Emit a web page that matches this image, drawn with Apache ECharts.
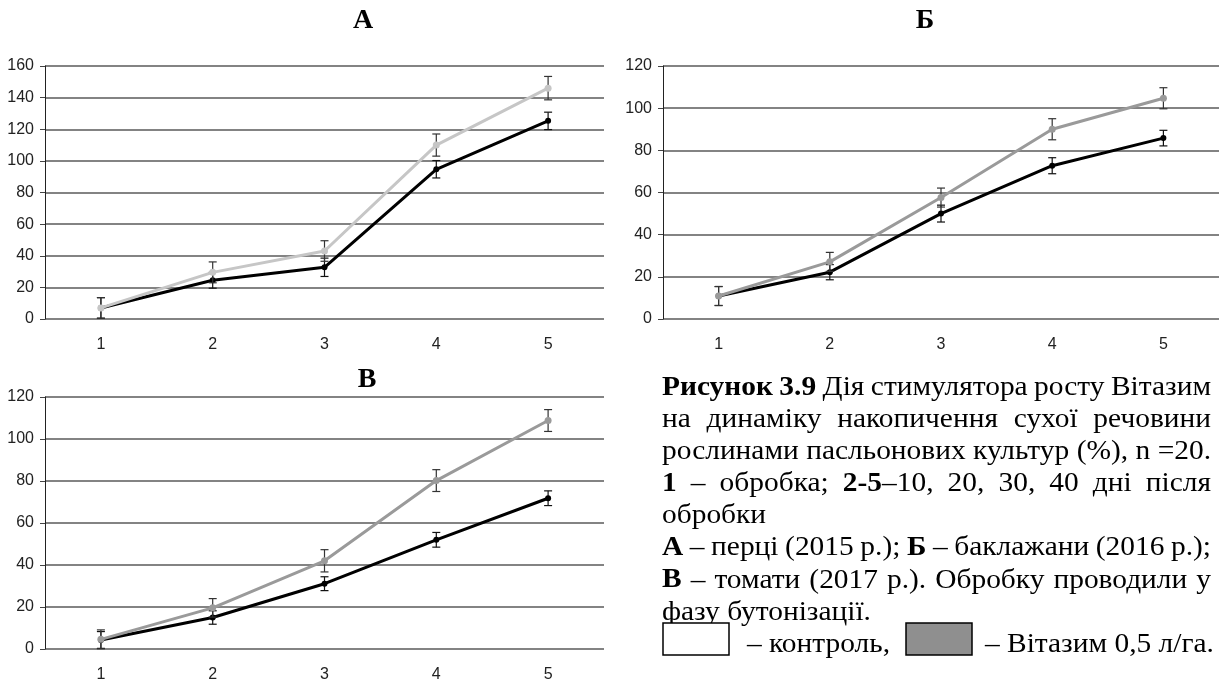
<!DOCTYPE html>
<html><head><meta charset="utf-8">
<script src="https://cdn.jsdelivr.net/npm/echarts@6/dist/echarts.min.js"></script>
<style>html,body{margin:0;padding:0;background:#fff}#c{width:1219px;height:684px}</style>
</head><body><div id="c"></div>
<script>
// ---- data ----
const categories = ['1', '2', '3', '4', '5'];
const panelTitles = ['А', 'Б', 'В'];

const controlA = [7, 24.5, 32.7, 94.7, 125.3];
const vitazimA = [7, 29.5, 43, 110, 146];
const controlErrA = [6.5, 5, 5.8, 5.5, 5.5];
const vitazimErrA = [6.5, 6.6, 6.5, 7, 7.4];

const controlB = [10.9, 22.2, 50, 72.7, 85.8];
const vitazimB = [10.9, 27.1, 57.6, 90, 104.7];
const controlErrB = [4.5, 3.6, 4, 3.8, 3.7];
const vitazimErrB = [4.5, 4.5, 4.5, 5, 5];

const controlV = [4.3, 15, 31.1, 52, 71.8];
const vitazimV = [4.6, 19.6, 42, 80.2, 108.8];
const controlErrV = [4, 3.2, 3.3, 3.5, 3.5];
const vitazimErrV = [4.5, 4.4, 5.3, 5.2, 5.2];

const yMaxA = 160, yMaxB = 120, yMaxV = 120, yStep = 20;

const captionLines = [
  '*Рисунок* *3.9* Дія стимулятора росту Вітазим',
  'на динаміку накопичення сухої речовини',
  'рослинами пасльонових культур (%), n =20.',
  '*1* – обробка; *2-5*–10, 20, 30, 40 дні після',
  'обробки',
  '*А* – перці (2015 р.); *Б* – баклажани (2016 р.);',
  '*В* – томати (2017 р.). Обробку проводили у',
  'фазу бутонізації.'
];
const captionJustify = [true, true, true, true, false, true, true, false];
const legendLabels = ['– контроль,', '– Вітазим 0,5 л/га.'];

// ---- styles / layout ----
const axisFont = "'Liberation Sans Narrow', 'Arial Narrow', 'Liberation Sans', Arial, sans-serif";
const serif = "'Liberation Serif', 'Times New Roman', serif";
const grids = [
  {left: 45, top: 66, width: 559, height: 253},
  {left: 663, top: 66, width: 559, height: 253},
  {left: 45, top: 397, width: 559, height: 252}
];
const lightGray = '#c6c6c6', midGray = '#9a9a9a';
const panels = [
  {c: controlA, v: vitazimA, ce: controlErrA, ve: vitazimErrA, max: yMaxA, gray: lightGray},
  {c: controlB, v: vitazimB, ce: controlErrB, ve: vitazimErrB, max: yMaxB, gray: midGray},
  {c: controlV, v: vitazimV, ce: controlErrV, ve: vitazimErrV, max: yMaxV, gray: midGray}
];

function errRender(color) {
  return function (params, api) {
    const x = api.value(0), lo = api.value(1), hi = api.value(2);
    const p1 = api.coord([x, hi]), p2 = api.coord([x, lo]);
    const w = 4;
    const st = {stroke: color, lineWidth: 1.2};
    return {type: 'group', children: [
      {type: 'line', shape: {x1: p1[0], y1: p1[1], x2: p2[0], y2: p2[1]}, style: st},
      {type: 'line', shape: {x1: p1[0] - w, y1: p1[1], x2: p1[0] + w, y2: p1[1]}, style: st},
      {type: 'line', shape: {x1: p2[0] - w, y1: p2[1], x2: p2[0] + w, y2: p2[1]}, style: st}
    ]};
  };
}

const xAxes = [], yAxes = [], series = [];
panels.forEach((p, i) => {
  xAxes.push({
    type: 'category', gridIndex: i, data: categories, boundaryGap: true,
    axisLine: {show: false}, axisTick: {show: false},
    axisLabel: {color: '#222', fontFamily: axisFont, fontSize: 16, margin: 18}
  });
  yAxes.push({
    type: 'value', gridIndex: i, min: 0, max: p.max, interval: yStep,
    axisLine: {show: true, lineStyle: {color: '#222', width: 1}},
    axisTick: {show: true, length: 5, lineStyle: {color: '#444'}},
    axisLabel: {color: '#222', fontFamily: axisFont, fontSize: 16, margin: 11},
    splitLine: {show: true, lineStyle: {color: '#5a5a5a', width: 1.6}}
  });
  const mkErr = (vals, errs) => vals.map((v, k) => [k, v - errs[k], v + errs[k]]);
  series.push({
    type: 'custom', xAxisIndex: i, yAxisIndex: i, renderItem: errRender('#111'),
    data: mkErr(p.c, p.ce), encode: {x: 0, y: [1, 2]}, z: 3, silent: true
  });
  series.push({
    type: 'line', xAxisIndex: i, yAxisIndex: i, data: p.c,
    lineStyle: {color: '#000', width: 3}, itemStyle: {color: '#000'},
    symbol: 'circle', symbolSize: 6, z: 4, animation: false
  });
  series.push({
    type: 'custom', xAxisIndex: i, yAxisIndex: i, renderItem: errRender('#333'),
    data: mkErr(p.v, p.ve), encode: {x: 0, y: [1, 2]}, z: 5, silent: true
  });
  series.push({
    type: 'line', xAxisIndex: i, yAxisIndex: i, data: p.v,
    lineStyle: {color: p.gray, width: 3}, itemStyle: {color: p.gray},
    symbol: 'circle', symbolSize: 7, z: 6, animation: false
  });
});

// ---- caption layout ----
const capSize = 26.5, capScaleX = 1.11;
const capLeft = 662, capRight = 1211, capBase0 = 397, capStep = 32.1;
const mctx = document.createElement('canvas').getContext('2d');
function fontStr(b) { return (b ? 'bold ' : 'normal ') + capSize + 'px ' + serif; }
function segW(t, b) { mctx.font = fontStr(b); return mctx.measureText(t).width * capScaleX; }
function parseWord(w) {
  return w.split('*').map((t, k) => ({t: t, b: k % 2 === 1})).filter(s => s.t.length);
}
const graphics = [];
const titlePos = [[363, 21], [925, 21], [367, 380]];
panelTitles.forEach((t, i) => {
  graphics.push({type: 'text', x: titlePos[i][0], y: titlePos[i][1],
    style: {text: t, font: 'bold 28px ' + serif, fill: '#000', align: 'center', verticalAlign: 'middle'}});
});
function addSeg(s, x, base) {
  graphics.push({type: 'text', x: x, y: base - 9, scaleX: capScaleX,
    style: {text: s.t, font: fontStr(s.b), fill: '#000', align: 'left', verticalAlign: 'middle'}});
}
captionLines.forEach((line, li) => {
  const base = capBase0 + li * capStep;
  const words = line.split(' ').map(parseWord);
  const widths = words.map(ws => ws.reduce((a, s) => a + segW(s.t, s.b), 0));
  const total = widths.reduce((a, b) => a + b, 0);
  const space = segW(' ', false);
  const gap = captionJustify[li] && words.length > 1 ? (capRight - capLeft - total) / (words.length - 1) : space;
  let x = capLeft;
  words.forEach((ws, wi) => {
    let sx = x;
    ws.forEach(s => { addSeg(s, sx, base); sx += segW(s.t, s.b); });
    x += widths[wi] + gap;
  });
});
const legBase = capBase0 + 8 * capStep;
graphics.push({type: 'rect', shape: {x: 663, y: 623, width: 66, height: 32},
  style: {fill: '#fff', stroke: '#000', lineWidth: 1.5}});
graphics.push({type: 'rect', shape: {x: 906, y: 623, width: 66, height: 32},
  style: {fill: '#8f8f8f', stroke: '#000', lineWidth: 1.5}});
addSeg({t: legendLabels[0], b: false}, 747, legBase);
addSeg({t: legendLabels[1], b: false}, 985, legBase);

const chart = echarts.init(document.getElementById('c'), null, {renderer: 'canvas'});
chart.setOption({
  animation: false,
  backgroundColor: '#fff',
  grid: grids,
  xAxis: xAxes,
  yAxis: yAxes,
  series: series,
  graphic: graphics
});
</script>
</body></html>
